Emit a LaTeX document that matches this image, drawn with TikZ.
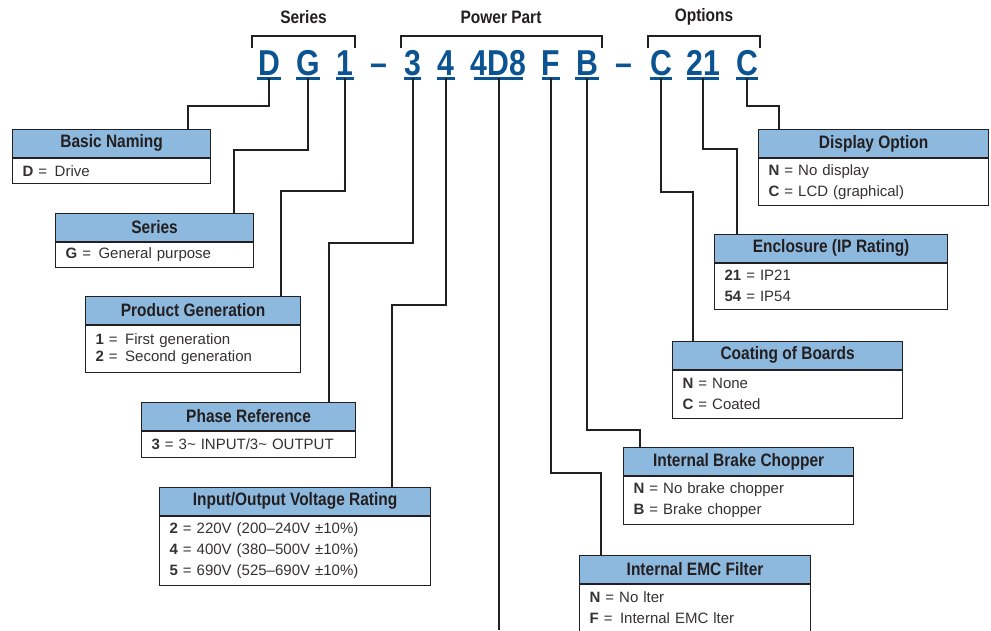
\documentclass[tikz,border=0pt]{standalone}
\usepackage{fontspec}
\setmainfont{Liberation Sans}
\newfontfamily\headfont{Liberation Sans}[FakeStretch=0.86]
\newfontfamily\codefont{Liberation Sans}[FakeStretch=0.84]
\usetikzlibrary{positioning}
\definecolor{codeblue}{RGB}{11,83,145}
\definecolor{hdrblue}{RGB}{141,185,222}
\definecolor{ink}{RGB}{35,31,32}
\tikzset{
  code/.style={anchor=base,inner sep=0pt,text=codeblue,font=\codefont\bfseries\fontsize{36}{36}\selectfont},
  uline/.style={codeblue,line width=3pt},
  conn/.style={ink,line width=2pt},
  brkt/.style={ink,line width=1.3pt},
  grp/.style={text=ink,font=\headfont\bfseries\fontsize{18}{20}\selectfont},
  head/.style={draw=ink,line width=1.2pt,fill=hdrblue,minimum width=#1,minimum height=27.5pt,inner sep=0pt,anchor=north west,text=ink,font=\headfont\bfseries\fontsize{18}{20}\selectfont},
  body/.style={draw=ink,line width=1.2pt,text width=#1,align=left,inner xsep=10pt,inner ysep=0pt,anchor=north,text=ink!92,font=\fontsize{15}{21}\selectfont}
}

\begin{document}
\begin{tikzpicture}[x=1pt,y=-1pt]
\useasboundingbox (0,0) rectangle (991,630);
% groups
\node[grp] (lseries) at (303.5,17) {Series};
\node[grp] (lpower) at (501,17) {Power Part};
\node[grp] (loptions) at (704,17) {Options};
\draw[brkt] (252,48) |- (355,36) -- (355,48);
\draw[brkt] (401,48) |- (602,36) -- (602,48);
\draw[brkt] (648,48) |- (760,36) -- (760,48);
% type code
\foreach \nm/\x/\t/\w in {cD/269/D/24, cG/308/G/24, c1/345/1/18, c3/412.5/3/17, c4/446/4/18,
  c4D8/498.5/4D8/49, cF/551/F/18, cB/587/B/24, cC/661/C/22, c21/703/21/32, cCC/747/C/22}{
  \node[code] (\nm) at (\x,75) {\t};
  \draw[uline] (\x-\w/2,78) -- (\x+\w/2,78);}
\node[code] (dash1) at (378.5,75) {–};
\node[code] (dash2) at (624,75) {–};
% left boxes
\node[head=198pt] (basic) at (12,129) {Basic Naming};
\node[body=178pt,minimum height=25pt] (basic-b) at (basic.south) {\textbf{D} = \,Drive};
\node[head=198pt] (series) at (55,213) {Series};
\node[body=178pt,minimum height=25pt] (series-b) at (series.south) {\textbf{G} = \,General purpose};
\node[head=215pt] (gener) at (85,296) {Product Generation};
\node[body=195pt,minimum height=47pt] (gener-b) at (gener.south) {\textbf{1} = \,First generation\\[-4pt]\textbf{2} = \,Second generation};
\node[head=214pt] (phase) at (141,402) {Phase Reference};
\node[body=194pt,minimum height=26pt] (phase-b) at (phase.south) {\textbf{3} = 3\textasciitilde{} INPUT/3\textasciitilde{} OUTPUT};
\node[head=271pt] (volt) at (159,487) {Input/Output Voltage Rating};
\node[body=251pt,minimum height=69pt] (volt-b) at (volt.south) {\textbf{2} = 220V (200–240V ±10\%)\\\textbf{4} = 400V (380–500V ±10\%)\\\textbf{5} = 690V (525–690V ±10\%)};
% right boxes
\node[head=230pt] (disp) at (758,129) {Display Option};
\node[body=210pt,minimum height=47pt] (disp-b) at (disp.south) {\textbf{N} = No display\\\textbf{C} = LCD (graphical)};
\node[head=233pt] (encl) at (714,234) {Enclosure (IP Rating)};
\node[body=213pt,minimum height=46pt] (encl-b) at (encl.south) {\textbf{21} = IP21\\\textbf{54} = IP54};
\node[head=230pt] (coat) at (672,341) {Coating of Boards};
\node[body=210pt,minimum height=48pt] (coat-b) at (coat.south) {\textbf{N} = None\\\textbf{C} = Coated};
\node[head=230pt] (brake) at (623,447) {Internal Brake Chopper};
\node[body=210pt,minimum height=48pt] (brake-b) at (brake.south) {\textbf{N} = No brake chopper\\\textbf{B} = Brake chopper};
\node[head=231pt] (emc) at (579,555) {Internal EMC Filter};
\node[body=211pt,minimum height=47pt] (emc-b) at (emc.south) {\textbf{N} = No lter\\\textbf{F} = \,Internal EMC lter};
% connectors
\foreach \nm/\bx/\by/\bn in {cD/188/106/basic, cG/234/150/series, c1/281/191/gener, c3/329/243/phase,
  c4/392/305/volt, cF/601/473/emc, cB/640/430/brake, cC/693/192/coat, c21/737/149/encl, cCC/779/106/disp}{
  \draw[conn] ([yshift=-3pt]\nm.base) |- (\bx,\by) coordinate (k) -- (k |- \bn.north);}
\coordinate (tail) at (498.5,630);
\draw[conn] ([yshift=-3pt]c4D8.base) -- (tail);
\end{tikzpicture}
\end{document}
